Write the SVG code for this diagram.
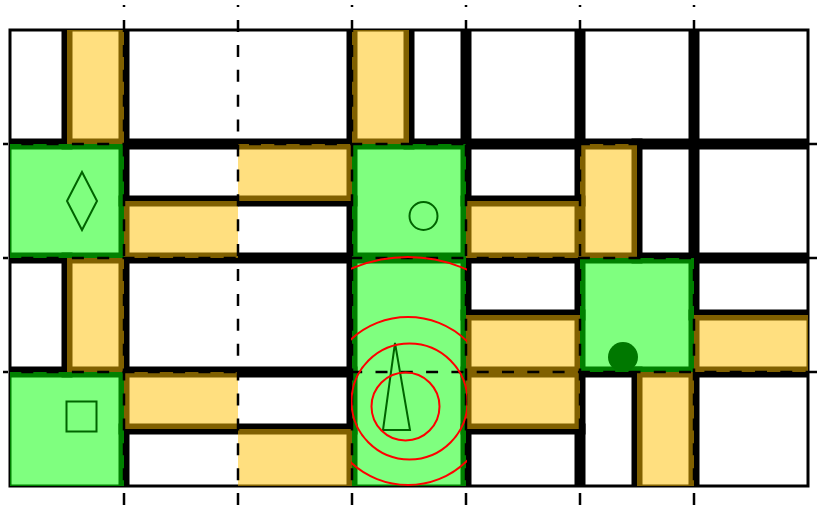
<svg xmlns="http://www.w3.org/2000/svg" width="817" height="514" viewBox="0 0 817 514">
<style>
.w{stroke:#000;stroke-width:11;stroke-linecap:square;fill:none}
.y{fill:rgba(255,192,0,0.5)}
.g{fill:rgba(0,255,0,0.5)}
.dv{stroke:#000;stroke-width:2.5;stroke-dasharray:12 12.9;stroke-dashoffset:9.9;fill:none}
.dh{stroke:#000;stroke-width:2.5;stroke-dasharray:12 13.3;stroke-dashoffset:7;fill:none}
.s{stroke:#006400;stroke-width:2;fill:none}
.r{stroke:#f00;stroke-width:2;fill:none}
</style>
<defs>
<clipPath id="cp"><rect x="10" y="30" width="798" height="456"/></clipPath>
<clipPath id="cc"><rect x="351" y="250" width="116" height="236"/></clipPath>
</defs>
<rect x="10" y="30" width="798" height="456" fill="#fff"/>
<g id="walls" clip-path="url(#cp)">
<line class="w" x1="10" y1="144" x2="808" y2="144"/>
<line class="w" x1="10" y1="258" x2="808" y2="258"/>
<line class="w" x1="10" y1="372" x2="352" y2="372"/>
<line class="w" x1="466" y1="372" x2="808" y2="372"/>
<line class="w" x1="124" y1="201" x2="352" y2="201"/>
<line class="w" x1="466" y1="201" x2="580" y2="201"/>
<line class="w" x1="466" y1="315" x2="580" y2="315"/>
<line class="w" x1="694" y1="315" x2="808" y2="315"/>
<line class="w" x1="124" y1="429" x2="352" y2="429"/>
<line class="w" x1="466" y1="429" x2="580" y2="429"/>
<line class="w" x1="67" y1="30" x2="67" y2="144"/>
<line class="w" x1="67" y1="258" x2="67" y2="372"/>
<line class="w" x1="124" y1="30" x2="124" y2="486"/>
<line class="w" x1="352" y1="30" x2="352" y2="486"/>
<line class="w" x1="409" y1="30" x2="409" y2="144"/>
<line class="w" x1="466" y1="30" x2="466" y2="486"/>
<line class="w" x1="580" y1="30" x2="580" y2="486"/>
<line class="w" x1="637" y1="144" x2="637" y2="258"/>
<line class="w" x1="637" y1="372" x2="637" y2="486"/>
<line class="w" x1="694" y1="30" x2="694" y2="486"/>
</g>
<rect id="border" x="10" y="30" width="798" height="456" fill="none" stroke="#000" stroke-width="3"/>
<g id="corridors">
<rect class="y" x="67" y="30" width="57" height="114"/>
<rect class="y" x="352" y="30" width="57" height="114"/>
<rect class="y" x="124" y="201" width="114" height="57"/>
<rect class="y" x="238" y="144" width="114" height="57"/>
<rect class="y" x="466" y="201" width="114" height="57"/>
<rect class="y" x="580" y="144" width="57" height="114"/>
<rect class="y" x="67" y="258" width="57" height="114"/>
<rect class="y" x="466" y="315" width="114" height="57"/>
<rect class="y" x="694" y="315" width="114" height="57"/>
<rect class="y" x="124" y="372" width="114" height="57"/>
<rect class="y" x="238" y="429" width="114" height="57"/>
<rect class="y" x="466" y="372" width="114" height="57"/>
<rect class="y" x="637" y="372" width="57" height="114"/>
</g>
<g id="rooms">
<rect id="room-diamond" class="g" x="10" y="144" width="114" height="114"/>
<rect id="room-circle" class="g" x="352" y="144" width="114" height="114"/>
<rect id="room-triangle" class="g" x="352" y="258" width="114" height="228"/>
<rect id="room-dot" class="g" x="580" y="258" width="114" height="114"/>
<rect id="room-square" class="g" x="10" y="372" width="114" height="114"/>
</g>
<g id="grid">
<line class="dv" x1="124" y1="5" x2="124" y2="505"/>
<line class="dv" x1="238" y1="5" x2="238" y2="505"/>
<line class="dv" x1="352" y1="5" x2="352" y2="505"/>
<line class="dv" x1="466" y1="5" x2="466" y2="505"/>
<line class="dv" x1="580" y1="5" x2="580" y2="505"/>
<line class="dv" x1="694" y1="5" x2="694" y2="505"/>
<line class="dh" x1="3" y1="144" x2="817" y2="144"/>
<line class="dh" x1="3" y1="258" x2="817" y2="258"/>
<line class="dh" x1="3" y1="372" x2="817" y2="372"/>
</g>
<g id="symbols">
<polygon class="s" points="82,172 97,201 82,230 67,201"/>
<circle class="s" cx="423.5" cy="216" r="14"/>
<rect class="s" x="66.5" y="401.5" width="30" height="30" stroke-width="2.5"/>
<polygon class="s" points="395,343 410,430 383,430" stroke-width="1.6"/>
<circle cx="623" cy="357" r="15" fill="#007800"/>
</g>
<g id="rings" clip-path="url(#cc)">
<circle class="r" cx="408" cy="401" r="144"/>
<circle class="r" cx="408" cy="401" r="84"/>
<circle class="r" cx="409.5" cy="401.5" r="58"/>
<circle class="r" cx="405.5" cy="406.5" r="34"/>
</g>
</svg>
